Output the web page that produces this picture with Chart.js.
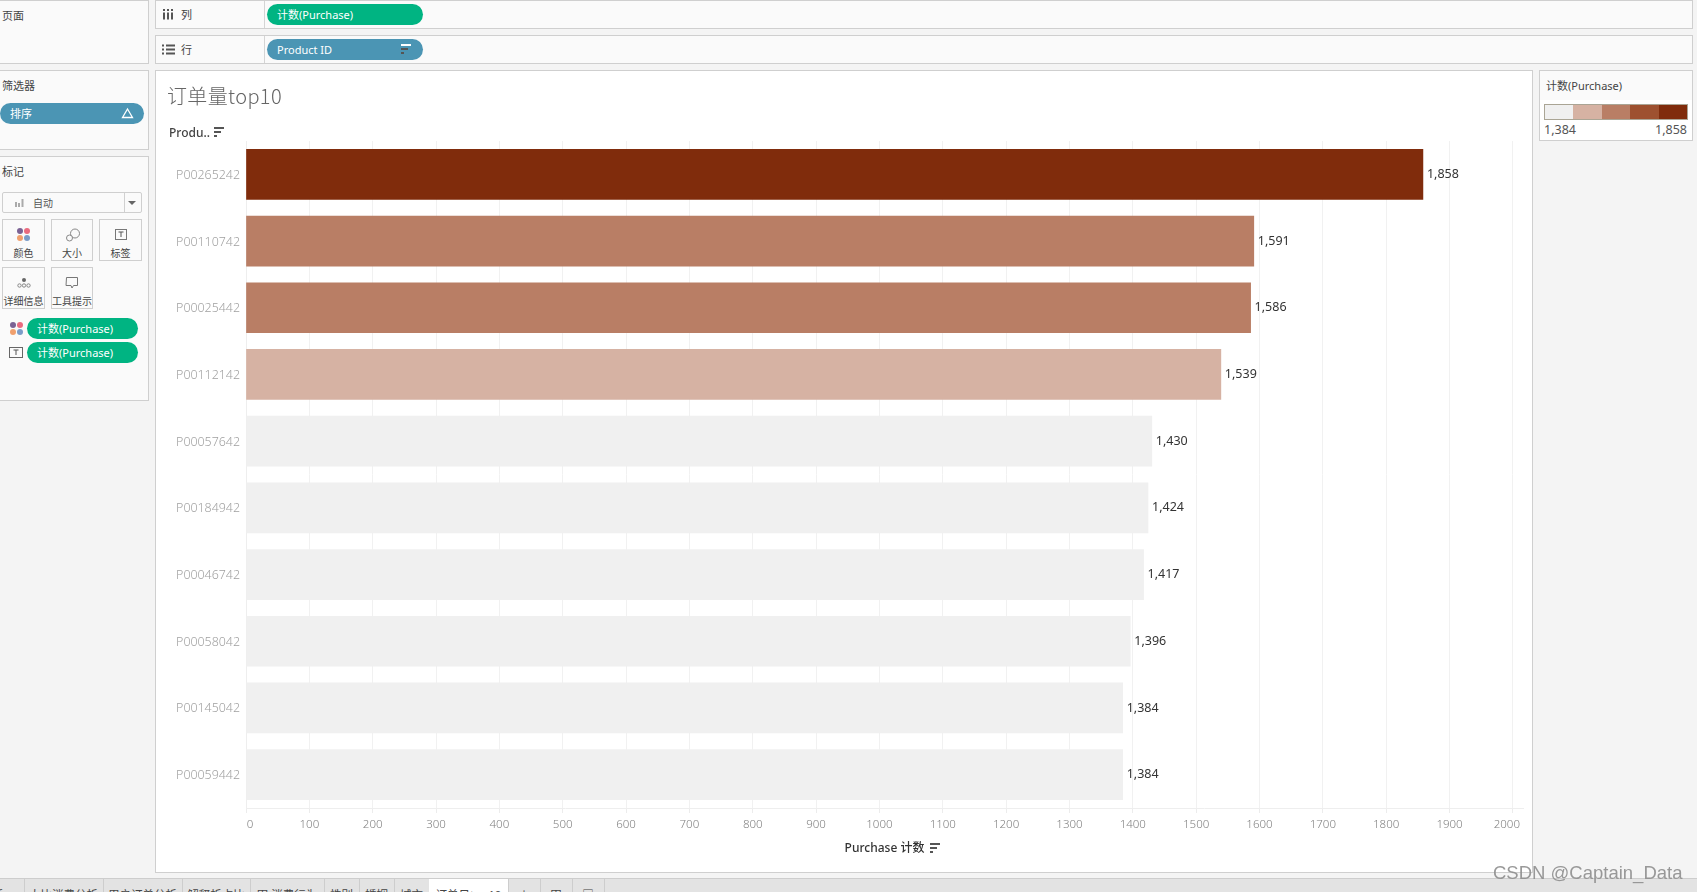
<!DOCTYPE html>
<html lang="zh">
<head>
<meta charset="utf-8">
<title>订单量top10</title>
<script src="https://cdn.jsdelivr.net/npm/chart.js@4"></script>
<style>
html,body{margin:0;padding:0;width:1697px;height:892px;overflow:hidden;background:#f4f4f4;font-family:"Noto Sans","Noto Sans CJK SC",sans-serif;color:#444;}
.abs{position:absolute;box-sizing:border-box;}
.panel{background:#fafafa;border:1px solid #cfcfcf;}
.pill{color:#fff;border-radius:11px;font-size:11px;line-height:21px;padding-left:10px;height:21px;white-space:nowrap;}
.green{background:#00b482;}
.blue{background:#4b95b4;}
.lbl{font-size:11px;color:#444;white-space:nowrap;line-height:14px;}
.btn{background:#fafafa;border:1px solid #cfcfcf;}
.btnt{position:absolute;left:0;right:0;bottom:0;text-align:center;font-size:10px;line-height:13px;color:#444;white-space:nowrap;}
.sort,.sort:before,.sort:after{display:block;height:2px;background:#555;}
.sort{position:absolute;width:10px;}
.sort:before{content:"";position:absolute;top:4px;left:0;width:7px;}
.sort:after{content:"";position:absolute;top:8px;left:0;width:3px;}
.tab{position:absolute;top:879px;height:13px;border-right:1px solid #cdcdcd;font-size:11.5px;line-height:31px;overflow:hidden;white-space:nowrap;text-align:center;color:#444;}
.dots{position:absolute;width:14px;height:14px;}
.dots i{position:absolute;width:6px;height:6px;border-radius:50%;}
svg{position:absolute;overflow:visible;}
</style>
</head>
<body>
<!-- left column -->
<div class="abs panel" style="left:-2px;top:0;width:151px;height:64px"></div>
<div class="abs lbl" style="left:2px;top:9px">页面</div>
<div class="abs panel" style="left:-2px;top:70px;width:151px;height:80px"></div>
<div class="abs lbl" style="left:2px;top:79px">筛选器</div>
<div class="abs pill blue" style="left:0;top:103px;width:144px">排序
  <svg style="left:122px;top:5px" width="11" height="10"><path d="M5.5 1 L10.5 9.5 L0.5 9.5 Z" fill="none" stroke="#fff" stroke-width="1.3"/></svg></div>
<div class="abs panel" style="left:-2px;top:156px;width:151px;height:245px"></div>
<div class="abs lbl" style="left:2px;top:165px">标记</div>
<div class="abs btn" style="left:2px;top:192px;width:140px;height:21px;border-radius:2px">
  <span style="position:absolute;left:30px;top:3px;font-size:10px;line-height:14px;color:#555">自动</span>
  <svg style="left:12px;top:5px" width="10" height="10"><path d="M1 4v5M4 5v4M7.5 1v8" stroke="#aaa" stroke-width="2"/></svg>
  <div style="position:absolute;left:121px;top:0;bottom:0;border-left:1px solid #d0d0d0"></div>
  <svg style="left:125px;top:8px" width="9" height="5"><path d="M0 0h8l-4 4z" fill="#666"/></svg>
</div>
<div class="abs btn" style="left:2px;top:219px;width:43px;height:42px"><div class="dots" style="left:14px;top:8px"><i style="left:0;top:0;background:#7b6294"></i><i style="left:7px;top:0;background:#ea6b7f"></i><i style="left:0;top:7px;background:#f0a06e"></i><i style="left:7px;top:7px;background:#7b9cc8"></i></div><div class="btnt">颜色</div></div>
<div class="abs btn" style="left:51px;top:219px;width:42px;height:42px"><svg style="left:14px;top:8px" width="14" height="14"><circle cx="9" cy="5.5" r="4.5" fill="none" stroke="#888"/><circle cx="3.5" cy="10" r="3" fill="#fafafa" stroke="#888"/></svg><div class="btnt">大小</div></div>
<div class="abs btn" style="left:99px;top:219px;width:43px;height:42px"><svg style="left:15px;top:9px" width="12" height="11"><rect x=".5" y=".5" width="11" height="10" fill="none" stroke="#777"/><path d="M3.5 3h5M6 3v5" stroke="#555"/></svg><div class="btnt">标签</div></div>
<div class="abs btn" style="left:2px;top:267px;width:43px;height:42px"><svg style="left:14px;top:9px" width="14" height="12"><circle cx="7" cy="3" r="2" fill="#666"/><circle cx="2.5" cy="8.5" r="1.7" fill="none" stroke="#888"/><circle cx="7" cy="8.5" r="1.7" fill="none" stroke="#888"/><circle cx="11.5" cy="8.5" r="1.7" fill="none" stroke="#888"/></svg><div class="btnt">详细信息</div></div>
<div class="abs btn" style="left:51px;top:267px;width:42px;height:42px"><svg style="left:14px;top:9px" width="13" height="12"><path d="M.5.5h11v8h-4l-1.500 2.500l-1-2.500h-5z" fill="none" stroke="#777"/></svg><div class="btnt">工具提示</div></div>
<div class="abs dots" style="left:10px;top:322px"><i style="left:0;top:0;background:#7b6294"></i><i style="left:7px;top:0;background:#ea6b7f"></i><i style="left:0;top:7px;background:#f0a06e"></i><i style="left:7px;top:7px;background:#7b9cc8"></i></div>
<div class="abs pill green" style="left:27px;top:318px;width:111px">计数(Purchase)</div>
<svg class="abs" style="left:9px;top:347px" width="14" height="12"><rect x=".5" y=".5" width="13" height="10" fill="none" stroke="#666"/><path d="M4.500 3h5M7 3v5" stroke="#555"/></svg>
<div class="abs pill green" style="left:27px;top:342px;width:111px">计数(Purchase)</div>

<!-- shelves -->
<div class="abs panel" style="left:155px;top:0;width:1538px;height:29px"></div>
<div class="abs panel" style="left:155px;top:35px;width:1538px;height:29px"></div>
<div class="abs" style="left:264px;top:1px;width:1px;height:27px;background:#d4d4d4"></div>
<div class="abs" style="left:264px;top:36px;width:1px;height:27px;background:#d4d4d4"></div>
<svg class="abs" style="left:163px;top:9px" width="11" height="11"><path d="M1 0v2M1 3.500v7M5 0v2M5 3.500v7M9 0v2M9 3.500v7" stroke="#555" stroke-width="2"/></svg>
<div class="abs lbl" style="left:181px;top:8px">列</div>
<svg class="abs" style="left:162px;top:44px" width="13" height="11"><path d="M0 1.500h2M4 1.500h9M0 5.500h2M4 5.500h9M0 9.500h2M4 9.500h9" stroke="#555" stroke-width="1.800"/></svg>
<div class="abs lbl" style="left:181px;top:43px">行</div>
<div class="abs pill green" style="left:267px;top:4px;width:156px">计数(Purchase)</div>
<div class="abs pill blue" style="left:267px;top:39px;width:156px">Product ID<span class="sort" style="left:134px;top:5px;background:#fff"></span></div>

<!-- chart sheet -->
<div class="abs" style="left:155px;top:70px;width:1378px;height:803px;background:#fff;border:1px solid #cfcfcf"></div>
<canvas id="chart" class="abs" style="left:155px;top:70px;width:1378px;height:802px"></canvas>
<div class="abs" style="left:167px;top:82px;font-size:20px;line-height:28px;letter-spacing:.35px;color:#666;font-weight:300;font-family:'Noto Sans CJK SC',sans-serif;white-space:nowrap">订单量top10</div>
<div class="abs" style="left:169px;top:125px;font-size:12px;line-height:16px;color:#444;font-weight:500;white-space:nowrap">Produ..</div>
<span class="sort" style="left:214px;top:127px"></span>
<span class="sort" style="left:930px;top:843px"></span>

<!-- legend -->
<div class="abs panel" style="left:1539px;top:70px;width:154px;height:71px"></div>
<div class="abs" style="left:1540px;top:100px;width:152px;height:40px;background:#fff"></div>
<div class="abs lbl" style="left:1546px;top:79px">计数(Purchase)</div>
<div class="abs" id="ramp" style="left:1544px;top:104px;width:144px;height:16px;border:1px solid #aaa595;display:flex"></div>
<div class="abs" id="legMin" style="left:1544px;top:122px;font-size:12.5px;line-height:16px;color:#555"></div>
<div class="abs" id="legMax" style="left:1655px;top:122px;font-size:12.5px;line-height:16px;color:#555"></div>

<!-- tabs -->
<div class="abs" style="left:0;top:878px;width:1697px;height:14px;background:#e3e3e3;border-top:1px solid #cdcdcd"></div>
<div id="tabs"></div>
<div class="abs" style="left:1493px;top:861px;font-size:18.500px;line-height:24px;color:#8e8e8e;opacity:.9;font-family:'Liberation Sans',sans-serif;white-space:nowrap">CSDN @Captain_Data</div>

<script>
const productIds = ["P00265242","P00110742","P00025442","P00112142","P00057642","P00184942","P00046742","P00058042","P00145042","P00059442"];
const purchaseCounts = [1858,1591,1586,1539,1430,1424,1417,1396,1384,1384];
const colorRamp = ["#f0f0f0","#d6b2a3","#b97e65","#9e5130","#802c0c"];
const xTickValues = [0,100,200,300,400,500,600,700,800,900,1000,1100,1200,1300,1400,1500,1600,1700,1800,1900,2000];
const sheetTabs = ["分析","大比消费分析","用户订单分析","解释析占比","田 消费行为","性别","婚姻","城市","订单日top10","＋","田","▣"];
const tabEdges = [-40,24,103,182,250,324,359,394,429,508,540,572,604];

const lo = Math.min(...purchaseCounts), hi = Math.max(...purchaseCounts);
const fmt = v => v.toLocaleString("en-US");
const binColor = v => colorRamp[Math.min(colorRamp.length-1, Math.floor((v-lo)/(hi-lo)*colorRamp.length))];

document.getElementById("ramp").innerHTML = colorRamp.map(c=>`<div style="flex:1;background:${c}"></div>`).join("");
document.getElementById("legMin").textContent = fmt(lo);
document.getElementById("legMax").textContent = fmt(hi);
document.getElementById("tabs").innerHTML = sheetTabs.map((t,i)=>{
  const l = tabEdges[i], w = tabEdges[i+1]-l;
  const active = t.startsWith("订单日");
  return `<div class="tab" style="left:${l}px;width:${w}px;${active?'background:#fff;':''}">${t}</div>`;
}).join("");

const barValueLabels = {
  id:"barValueLabels",
  afterDatasetsDraw(chart){
    const {ctx} = chart, meta = chart.getDatasetMeta(0);
    ctx.save();
    ctx.font = '12.500px "Noto Sans", sans-serif';
    ctx.fillStyle = "#333";
    ctx.textAlign = "left";
    ctx.textBaseline = "middle";
    meta.data.forEach((bar,i)=>ctx.fillText(fmt(purchaseCounts[i]), bar.x+4, bar.y));
    ctx.restore();
  }
};
const edgeTickShift = {
  id:"edgeTickShift",
  beforeDraw(chart){
    const items = chart.scales.x.getLabelItems();
    if(!items.length || items.shifted) return;
    items[0].options.translation[0] += 4;
    items[items.length-1].options.translation[0] -= 6;
    items.shifted = true;
  }
};

new Chart(document.getElementById("chart"),{
  type:"bar",
  data:{labels:productIds,datasets:[{data:purchaseCounts,backgroundColor:purchaseCounts.map(binColor),barThickness:50}]},
  plugins:[barValueLabels,edgeTickShift],
  options:{
    indexAxis:"y",responsive:false,animation:false,devicePixelRatio:1,
    layout:{padding:{left:0,top:71,right:10,bottom:0}},
    plugins:{legend:{display:false},tooltip:{enabled:false}},
    scales:{
      x:{
        min:0,max:2016,
        afterBuildTicks(s){s.ticks=xTickValues.map(v=>({value:v}));},
        afterFit(s){s.height=64;},
        grid:{color:"#f1f1f1",tickColor:"#ececec",tickLength:5,lineWidth:1},
        border:{color:"#eeeeee"},
        ticks:{autoSkip:false,maxRotation:0,padding:5,color:"#808080",callback:v=>String(v),font:{size:11.500,family:'"Noto Sans",sans-serif',weight:300}},
        title:{display:true,text:"Purchase 计数",color:"#333",padding:{top:0,bottom:16},font:{size:12,weight:500,family:'"Noto Sans","Noto Sans CJK SC",sans-serif'}}
      },
      y:{
        afterFit(s){s.width=91;},
        grid:{display:false,drawTicks:false},
        border:{display:true,color:"#eeeeee"},
        ticks:{autoSkip:false,padding:6,labelOffset:1,color:"#a0a0a0",font:{size:12.400,family:'"Noto Sans",sans-serif',weight:300}}
      }
    }
  }
});
</script>
</body>
</html>
